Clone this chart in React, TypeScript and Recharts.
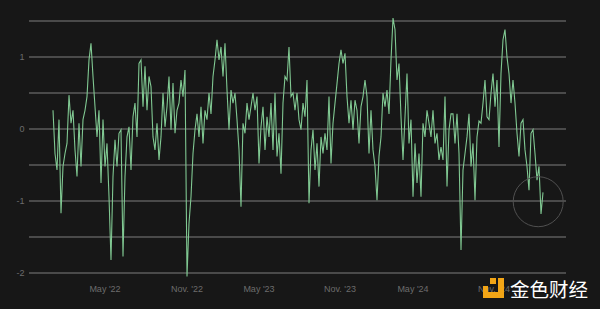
import React from "react";
import { LineChart, Line, XAxis, YAxis, ReferenceLine, ReferenceDot } from "recharts";

// sampled reading, one point every ~4.5 days (Jan '22 → Feb '25)
const values: number[] = [
  // Jan – Jul '22
  0.26, -0.34, -0.57, 0.13, -1.17, -0.52, -0.34, -0.2, 0.47, 0.08, 0.26, -0.29, -0.66, 0.08, -0.52, 0.13,
  0.26, 0.45, 0.96, 1.19, 0.73, 0.31, -0.11, 0.26, -0.75, 0.13, -0.52, -0.2, -0.94, -1.82, -0.66,
  // Jul – Nov '22
  -0.15, -0.52, -0.06, -0.01, -1.77, -0.66, -0.11, 0.03, -0.57, 0.17, 0.36, -0.11, 0.91, 0.96, 0.31, 0.87,
  0.26, 0.73, 0.59, -0.11, -0.29, 0.08, -0.43, -0.11, 0.5, 0.03, 0.31, 0.73, -0.01, 0.64, -0.06,
  // Nov '22 – Apr '23
  0.26, 0.36, 0.68, 0.45, 0.82, -2.05, -1.31, -0.94, -0.34, -0.01, 0.21, -0.11, 0.31, -0.2, 0.26, 0.13,
  0.5, 0.21, 0.73, 0.96, 1.24, 0.96, 1.14, 0.73, 1.19, 0.54, -0.01, 0.54, 0.36, 0.5, 0.13,
  // Apr – Sep '23
  -0.29, -1.08, 0.08, -0.06, 0.36, 0.13, 0.31, 0.5, 0.26, 0.45, -0.48, 0.03, 0.31, -0.29, 0.17, -0.11,
  0.36, -0.29, 0.5, -0.38, -0.06, -0.62, 0.36, 0.73, 0.68, 1.14, 0.45, 0.5, 0.26, 0.5, 0.13,
  // Sep '23 – Jan '24
  -0.01, 0.36, 0.17, 0.68, -1.03, -0.29, -0.01, -0.57, -0.2, -0.8, -0.11, -0.34, -0.06, -0.29, 0.45, -0.48,
  0.08, 0.36, 0.63, 0.91, 1.1, 0.91, 1.05, 0.45, 0.08, 0.4, -0.01, 0.4, 0.26, -0.2, 0.31,
  // Jan – Jun '24
  0.45, 0.68, 0.45, -0.34, 0.26, -0.29, -0.52, -0.99, -0.38, -0.11, 0.5, 0.31, 0.54, 0.21, 0.96, 1.54,
  1.38, 0.68, 0.91, 0.17, -0.43, 0.17, 0.77, -0.2, 0.13, -0.94, -0.2, -0.75, -0.34, -0.94, 0.08,
  // Jun – Oct '24
  -0.11, 0.26, 0.08, -0.11, 0.26, -0.2, -0.06, -0.43, -0.25, -0.43, 0.45, -0.8, -0.01, 0.21, 0.21, -0.2,
  0.21, -0.34, -1.68, -0.57, -0.34, -0.11, 0.21, -0.52, -0.2, -0.99, -0.11, 0.11, 0.08, 0.36, 0.68,
  // Oct '24 – Feb '25
  0.17, 0.13, 0.5, 0.77, 0.31, 0.68, -0.25, 0.77, 1.24, 1.38, 1.0, 0.77, 0.36, 0.68, 0.36, -0.06,
  -0.38, 0.08, 0.13, -0.29, -0.52, -0.85, -0.06, -0.01, -0.34, -0.71, -0.52, -1.18, -0.88,
];

// x ticks sit at these sample positions
const tickIdx = [26, 67, 103, 143.5, 180, 220.5];
const tickLabels = ["May '22", "Nov. '22", "May '23", "Nov. '23", "May '24", "Nov. '24"];
const yTicks = [-2, -1.5, -1, -0.5, 0, 0.5, 1, 1.5];

// highlighted latest reading
const markIdx = 242.6;
const markValue = -1.01;

const data = values.map((v, i) => ({ i, v }));

const FONT = "'Liberation Sans', Arial, sans-serif";
const LABEL = "#6c6c6c";

function YTick({ y, payload }: any) {
  // gridlines every 0.5, labels only on whole numbers
  if (!Number.isInteger(payload.value)) return <g />;
  return (
    <text x={24.5} y={y} dy={3.2} textAnchor="end" fill={LABEL} fontSize={9} fontFamily={FONT}>
      {payload.value}
    </text>
  );
}

function XTick({ x, payload }: any) {
  const k = tickIdx.indexOf(payload.value);
  return (
    <text x={x} y={291.5} textAnchor="middle" fill={LABEL} fontSize={9} fontFamily={FONT}>
      {tickLabels[k]}
    </text>
  );
}

function Watermark() {
  return (
    <div style={{ position: "absolute", left: 483, top: 277, height: 22, display: "flex", alignItems: "center" }}>
      <svg width={22} height={21} style={{ display: "block" }}>
        <rect x={7} y={0} width={6} height={6} fill="#f2a516" />
        <rect x={15} y={0} width={6} height={20} fill="#f2a516" />
        <rect x={0} y={14} width={21} height={6} fill="#f2a516" />
        <rect x={0} y={8} width={5} height={12} fill="#f2a516" />
      </svg>
      <span
        style={{
          marginLeft: 5,
          color: "#ffffff",
          fontSize: 19.5,
          lineHeight: "21px",
          fontFamily: "'Noto Sans CJK SC', sans-serif",
        }}
      >
        金色财经
      </span>
    </div>
  );
}

export default function App() {
  return (
    <div style={{ position: "absolute", left: 0, top: 0, width: 600, height: 309, background: "#171717" }}>
      <LineChart width={600} height={309} data={data} margin={{ top: 13.8, right: 34, bottom: 8.8, left: 0 }}>
        <XAxis
          type="number"
          dataKey="i"
          domain={[-12, 256.5]}
          ticks={tickIdx}
          axisLine={false}
          tickLine={false}
          height={20}
          tick={<XTick />}
          interval={0}
        />
        <YAxis
          type="number"
          domain={[-2.1, 1.6]}
          allowDataOverflow
          ticks={yTicks}
          axisLine={false}
          tickLine={false}
          width={29}
          tick={<YTick />}
          interval={0}
        />
        {yTicks.map((t) => (
          <ReferenceLine key={t} y={t} stroke="#7e7e7e" strokeWidth={1} />
        ))}
        <Line
          type="linear"
          dataKey="v"
          stroke="#80c892"
          strokeWidth={1.1}
          dot={false}
          isAnimationActive={false}
        />
        <ReferenceDot x={markIdx} y={markValue} r={25} fill="none" stroke="#505050" strokeWidth={1} />
      </LineChart>
      <Watermark />
    </div>
  );
}
